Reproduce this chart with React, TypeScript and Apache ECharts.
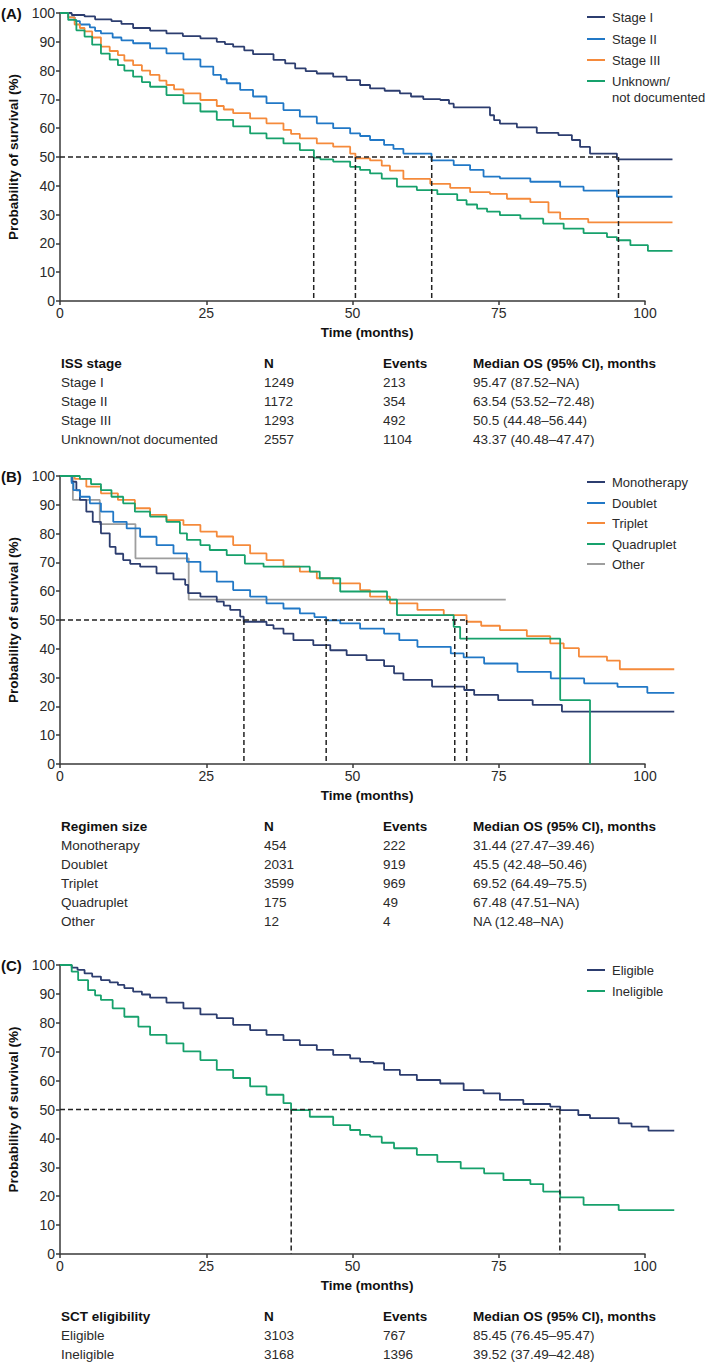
import React, { useEffect, useRef } from 'react';
import * as echarts from 'echarts';

// ---------- Panel A: ISS stage ----------
const stageI = [[0,100],[2,99.3],[4.2,98.8],[6,97.8],[8.8,97.2],[10.5,96.2],[12.5,94.8],[15.4,93.9],[18.2,92.9],[21,92.0],[24,91.2],[26.8,90.0],[28.2,89.2],[29.6,88.3],[31.5,87.0],[33,85.7],[36.5,83.7],[38.5,82.5],[40.2,80.8],[42,79.8],[43.9,79.0],[46.7,77.9],[49,76.7],[51.3,75.0],[53,73.8],[55.5,73.0],[58.1,72.1],[60,71.0],[62.1,70.1],[65,69.8],[66.5,68.5],[67.3,67.2],[73.5,64.5],[74.2,62.8],[75.2,61.6],[78.1,60.3],[81.5,58.4],[85.2,57.6],[87.5,55.9],[88.9,53.5],[90.6,51.2],[95.2,49.2],[104.7,49.2]];
const stageII = [[0,100],[1.4,98.5],[2.5,97.2],[3.4,96.0],[5.1,95.0],[6,93.8],[7,92.9],[9,91.5],[10.5,90.5],[12.5,89.5],[15.4,87.7],[18.2,86.0],[21.1,83.9],[24,81.4],[26.2,78.5],[27.5,77],[28.5,75.6],[30.8,73.3],[33,71.0],[35.3,68.7],[38.2,66.3],[41,64.0],[43.9,61.7],[46.7,60.0],[49.6,58.2],[51.3,57.3],[53,55.9],[55.4,54.2],[57,52.8],[58.7,51.2],[63.5,48.8],[67.3,47.2],[70.1,45.5],[72.4,43.2],[75.2,42.6],[80.4,41.4],[85.5,39.7],[89.5,38.3],[95.2,36.2],[104.7,36.2]];
const stageIII = [[0,100],[1.4,98.5],[2.5,96],[3.4,94.8],[4.2,93.6],[5.5,91.5],[7,88.3],[8.5,86.8],[9.9,85.4],[11,83.5],[12.5,81.9],[14,80],[15.4,78.5],[17,76.5],[18.2,75.0],[19.5,73.5],[21.1,72.1],[24,69.8],[26.8,67.7],[28,66.5],[29.6,65.2],[32.5,63.4],[35.3,61.7],[38.2,59.4],[39.5,58],[41,56.5],[43.9,54.7],[46.7,53.6],[49.6,51.2],[50.5,49.5],[53,48.8],[55,47],[56.4,45.3],[58.7,42.4],[63.3,40.7],[66.7,39.3],[70.1,37.8],[73.5,37.2],[76.4,35.5],[80.4,34.3],[83.5,30.8],[85.5,28.5],[90.3,27.3],[104.7,27.3]];
const stageUnknown = [[0,100],[1.4,97.6],[2.8,94],[4.2,91.8],[5.5,89],[7,85.9],[8.5,83.8],[9.9,81.9],[11,80],[12.5,77.9],[14,76],[15.4,74.4],[18.2,71.5],[21.1,68.6],[24,65.8],[26.8,62.9],[29.6,60.6],[32.5,58.2],[35.3,56.5],[38.2,54.7],[41,52.4],[43.4,49.8],[44.5,49.2],[46.7,48.4],[49.6,46.6],[51.3,45.5],[53,44.3],[55,42.5],[57.6,39.7],[61,38.5],[64.5,37.1],[67.9,35],[69.5,33.5],[71.3,32.1],[73,31],[75.2,29.8],[78.7,28.6],[82.6,26.9],[86.1,25.1],[89.5,23.6],[93.5,22.2],[95.2,21.1],[97.5,19.4],[100.5,17.4],[104.7,17.4]];
const mediansA = [43.37, 50.5, 63.54, 95.47];
const legendA = ['Stage I', 'Stage II', 'Stage III', 'Unknown/', 'not documented'];
const tableHeadA = ['ISS stage', 'N', 'Events', 'Median OS (95% CI), months'];
const tableRowsA = [
  ['Stage I', '1249', '213', '95.47 (87.52–NA)'],
  ['Stage II', '1172', '354', '63.54 (53.52–72.48)'],
  ['Stage III', '1293', '492', '50.5 (44.48–56.44)'],
  ['Unknown/not documented', '2557', '1104', '43.37 (40.48–47.47)'],
];

// ---------- Panel B: regimen size ----------
const mono = [[0,100],[2,98],[2.8,95],[3.4,91.7],[4.5,87.6],[5.6,84.1],[7,80.1],[8.5,75.4],[9.5,73],[10.8,70.8],[12,69.5],[13.7,68.5],[16.5,66.2],[19.4,64.1],[21.4,62.2],[21.9,59.3],[24,58.1],[26.8,56.4],[28,55],[29.1,53.5],[30.8,51.2],[31.4,49.4],[35.3,48.2],[36.5,47],[38.2,45.3],[39.9,43.0],[43.3,41.3],[46.2,39.5],[49,37.8],[52.4,36.1],[55.4,34.0],[57.1,31.5],[58.7,29.2],[63.6,26.9],[69.1,25.7],[70.8,24],[74.9,22.2],[80.8,20.5],[85.8,18.2],[105,18.2]];
const doublet = [[0,100],[2,97.5],[2.3,95.1],[3.4,92.8],[5.1,90.5],[7,87.6],[9.1,84.1],[11.4,81.8],[13.7,78.9],[16.5,76],[19.4,73.1],[21.7,70.2],[24,66.8],[26.8,63.3],[29.6,60.4],[32.5,58.1],[35.3,55.8],[38.2,54],[41,52.3],[43.5,51],[45.5,49.9],[47.9,48.8],[51.3,47],[55.4,45.3],[58,43],[61.1,40.7],[66.8,38.4],[69,37],[72.5,34.9],[78.2,32],[83.9,29.7],[89.6,28],[95.3,26.8],[100.4,24.7],[105,24.7]];
const triplet = [[0,100],[2.5,99],[4.5,96.3],[7,94],[9.9,91.7],[12.8,88.8],[15.4,86.5],[18.2,84.7],[21.1,83],[24,80.7],[26.8,79],[29.6,76],[32.5,73.1],[35.3,70.8],[38.2,68.5],[41,66.8],[43.9,64.5],[46.7,62.7],[51.3,60.4],[53,58.1],[56.4,55.8],[61.1,53.5],[65.6,51.7],[69.5,49.4],[72,48],[75.2,46.5],[79.8,44.4],[83.8,41.9],[86.1,40.2],[88.7,37.3],[93.5,35.9],[95.7,32.9],[105,32.9]];
const quadruplet = [[0,100],[3.4,99],[5.3,97.2],[7,95.1],[8.8,92.8],[10.8,90.5],[12.8,87.6],[15.4,85.9],[18.2,84.1],[20.5,80.1],[21.7,77.8],[24,76],[25.6,74.3],[28.5,72.5],[31.6,69.6],[34.8,68.5],[42.7,66.8],[44.4,64.5],[47.9,59.9],[55.9,57.1],[57.6,51.7],[67.3,47.6],[68.4,43.5],[85.5,22.2],[90.6,0]];
const other = [[0,100],[2.2,91.7],[6.8,83.3],[12.9,71.4],[22.0,57.1],[76.2,57.1]];
const mediansB = [31.44, 45.5, 67.48, 69.52];
const legendB = ['Monotherapy', 'Doublet', 'Triplet', 'Quadruplet', 'Other'];
const tableHeadB = ['Regimen size', 'N', 'Events', 'Median OS (95% CI), months'];
const tableRowsB = [
  ['Monotherapy', '454', '222', '31.44 (27.47–39.46)'],
  ['Doublet', '2031', '919', '45.5 (42.48–50.46)'],
  ['Triplet', '3599', '969', '69.52 (64.49–75.5)'],
  ['Quadruplet', '175', '49', '67.48 (47.51–NA)'],
  ['Other', '12', '4', 'NA (12.48–NA)'],
];

// ---------- Panel C: SCT eligibility ----------
const eligible = [[0,100],[2,99.1],[3,98.3],[4.2,97.1],[5.5,96],[7,94.8],[8.5,94],[9.9,93.1],[11,92],[12.5,90.8],[14,89.8],[15.4,88.7],[18.2,87],[21.1,85],[24,82.9],[26.8,81.6],[29.6,79.3],[32.5,77.5],[35.3,75.8],[38.2,74],[41,72.3],[43.9,70.6],[46.7,68.9],[49.6,67.7],[51.3,66.5],[53.6,66],[55.4,63.7],[58.1,62],[61,60.2],[65,59],[69,56.7],[72.4,55.6],[75.2,53.3],[79.2,51.9],[83.8,51],[85.5,49.8],[88.6,48.1],[90.6,47],[95.5,45.2],[97.7,44.1],[100.6,42.7],[105,42.7]];
const ineligible = [[0,100],[2,97.7],[3.1,94.8],[4.8,91.3],[6,89.5],[7,87.9],[9,85],[11,82.1],[13.4,78.7],[15.4,75.8],[18.2,72.9],[21.1,70.1],[24,67.1],[26.8,63.7],[29.6,60.9],[32.5,58],[35.3,55.1],[38.2,52.2],[39.5,49.8],[42.7,47.5],[46.7,44.6],[49.6,42.9],[51.3,41.2],[53,40.6],[55,38.5],[57.1,36.6],[61,34.3],[64.5,31.9],[68.5,29.6],[72.5,27.9],[75.8,25.6],[80.4,24.2],[82.6,21.6],[85.5,19.6],[89.5,17],[95.5,15.2],[105,15.2]];
const mediansC = [39.52, 85.45];
const legendC = ['Eligible', 'Ineligible'];
const tableHeadC = ['SCT eligibility', 'N', 'Events', 'Median OS (95% CI), months'];
const tableRowsC = [
  ['Eligible', '3103', '767', '85.45 (76.45–95.47)'],
  ['Ineligible', '3168', '1396', '39.52 (37.49–42.48)'],
];

const NAVY = '#2c3d6f';
const BLUE = '#2178c6';
const ORANGE = '#f58a3b';
const GREEN = '#17a16c';
const GRAY = '#9e9e9e';
const FONT = '"Liberation Sans", Arial, sans-serif';
const TEXT = '#2a2a2a';

export default function App() {
  const ref = useRef<HTMLDivElement>(null);
  useEffect(() => {
    document.body.style.margin = '0';
    if (!ref.current) return;
    const chart = echarts.init(ref.current, undefined, { renderer: 'svg' });

    const LEFT = 60;
    const W = 585;
    const panels = [
      {
        tag: '(A)', top: 13, height: 288,
        curves: [
          { name: 'Stage I', data: stageI, color: NAVY },
          { name: 'Stage II', data: stageII, color: BLUE },
          { name: 'Stage III', data: stageIII, color: ORANGE },
          { name: 'Unknown/not documented', data: stageUnknown, color: GREEN },
        ],
        medians: mediansA,
        legend: [
          { text: legendA[0], color: NAVY, y: 17 },
          { text: legendA[1], color: BLUE, y: 39 },
          { text: legendA[2], color: ORANGE, y: 60 },
          { text: legendA[3], color: GREEN, y: 81 },
          { text: legendA[4], color: null, y: 97 },
        ],
        head: tableHeadA, rows: tableRowsA,
      },
      {
        tag: '(B)', top: 476, height: 288,
        curves: [
          { name: 'Other', data: other, color: GRAY },
          { name: 'Monotherapy', data: mono, color: NAVY },
          { name: 'Doublet', data: doublet, color: BLUE },
          { name: 'Triplet', data: triplet, color: ORANGE },
          { name: 'Quadruplet', data: quadruplet, color: GREEN },
        ],
        medians: mediansB,
        legend: [
          { text: legendB[0], color: NAVY, y: 482 },
          { text: legendB[1], color: BLUE, y: 503 },
          { text: legendB[2], color: ORANGE, y: 523 },
          { text: legendB[3], color: GREEN, y: 544 },
          { text: legendB[4], color: GRAY, y: 564 },
        ],
        head: tableHeadB, rows: tableRowsB,
      },
      {
        tag: '(C)', top: 965, height: 289,
        curves: [
          { name: 'Eligible', data: eligible, color: NAVY },
          { name: 'Ineligible', data: ineligible, color: GREEN },
        ],
        medians: mediansC,
        legend: [
          { text: legendC[0], color: NAVY, y: 970 },
          { text: legendC[1], color: GREEN, y: 991 },
        ],
        head: tableHeadC, rows: tableRowsC,
      },
    ];

    const grid: any[] = [];
    const xAxis: any[] = [];
    const yAxis: any[] = [];
    const series: any[] = [];
    const graphic: any[] = [];
    const axisColor = '#3a3a3a';
    const colX = [61, 264, 383, 473];

    panels.forEach((p, k) => {
      const gVis = k * 2;
      const gData = k * 2 + 1;
      grid.push({ left: LEFT, top: p.top, width: W, height: p.height });
      grid.push({ left: LEFT, top: p.top, width: W * 1.05, height: p.height });
      xAxis.push({
        gridIndex: gVis, type: 'value', min: 0, max: 100, interval: 25,
        axisLine: { show: true, lineStyle: { color: axisColor, width: 1.5 } },
        axisTick: { show: true, length: 4, lineStyle: { color: axisColor, width: 1.5 } },
        axisLabel: { fontSize: 14, color: TEXT, margin: 5, fontFamily: FONT },
        splitLine: { show: false },
      });
      yAxis.push({
        gridIndex: gVis, type: 'value', min: 0, max: 100, interval: 10,
        axisLine: { show: true, lineStyle: { color: axisColor, width: 1.5 } },
        axisTick: { show: true, length: 4, lineStyle: { color: axisColor, width: 1.5 } },
        axisLabel: { fontSize: 14, color: TEXT, margin: 5, fontFamily: FONT },
        splitLine: { show: false },
      });
      xAxis.push({ gridIndex: gData, type: 'value', min: 0, max: 105, show: false });
      yAxis.push({ gridIndex: gData, type: 'value', min: 0, max: 100, show: false });

      p.curves.forEach((c) => {
        series.push({
          type: 'line', name: c.name, xAxisIndex: gData, yAxisIndex: gData,
          step: 'end', symbol: 'none', data: c.data, silent: true,
          lineStyle: { color: c.color, width: 1.8 }, itemStyle: { color: c.color }, z: 3,
        });
      });
      const maxMed = Math.max(...p.medians);
      series.push({
        type: 'line', name: `median-h-${k}`, xAxisIndex: gData, yAxisIndex: gData,
        symbol: 'none', data: [[0, 50], [maxMed, 50]], silent: true,
        lineStyle: { color: '#222', width: 1.5, type: [5, 3] }, z: 4,
      });
      p.medians.forEach((m, i) => {
        series.push({
          type: 'line', name: `median-v-${k}-${i}`, xAxisIndex: gData, yAxisIndex: gData,
          symbol: 'none', data: [[m, 50], [m, 0]], silent: true,
          lineStyle: { color: '#222', width: 1.5, type: [5, 3] }, z: 4,
        });
      });

      // panel tag
      graphic.push({
        type: 'text', x: 1, y: p.top,
        style: { text: p.tag, font: `bold 15px ${FONT}`, fill: '#111', align: 'left', verticalAlign: 'middle' },
      });
      // y axis title
      graphic.push({
        type: 'text', x: 13, y: p.top + p.height / 2, rotation: Math.PI / 2,
        style: { text: 'Probability of survival (%)', font: `bold 13.5px ${FONT}`, fill: '#111', align: 'center', verticalAlign: 'middle' },
      });
      // x axis title
      const axisY = p.top + p.height;
      graphic.push({
        type: 'text', x: 367, y: axisY + 31,
        style: { text: 'Time (months)', font: `bold 13.5px ${FONT}`, fill: '#111', align: 'center', verticalAlign: 'middle' },
      });
      // legend
      p.legend.forEach((l) => {
        if (l.color) {
          graphic.push({
            type: 'line', shape: { x1: 587, y1: l.y, x2: 605, y2: l.y },
            style: { stroke: l.color, lineWidth: 2 },
          });
        }
        graphic.push({
          type: 'text', x: 612, y: l.y,
          style: { text: l.text, font: `13px ${FONT}`, fill: TEXT, align: 'left', verticalAlign: 'middle' },
        });
      });
      // table
      const headY = axisY + 62;
      p.head.forEach((h, i) => {
        graphic.push({
          type: 'text', x: colX[i], y: headY,
          style: { text: h, font: `bold 13.5px ${FONT}`, fill: '#111', align: 'left', verticalAlign: 'middle' },
        });
      });
      p.rows.forEach((r, j) => {
        r.forEach((cell, i) => {
          graphic.push({
            type: 'text', x: colX[i], y: headY + 19 * (j + 1),
            style: { text: cell, font: `13.5px ${FONT}`, fill: TEXT, align: 'left', verticalAlign: 'middle' },
          });
        });
      });
    });

    chart.setOption({
      animation: false,
      backgroundColor: '#ffffff',
      grid, xAxis, yAxis, series, graphic,
    });
    return () => chart.dispose();
  }, []);
  return <div ref={ref} style={{ width: 709, height: 1363 }} />;
}
